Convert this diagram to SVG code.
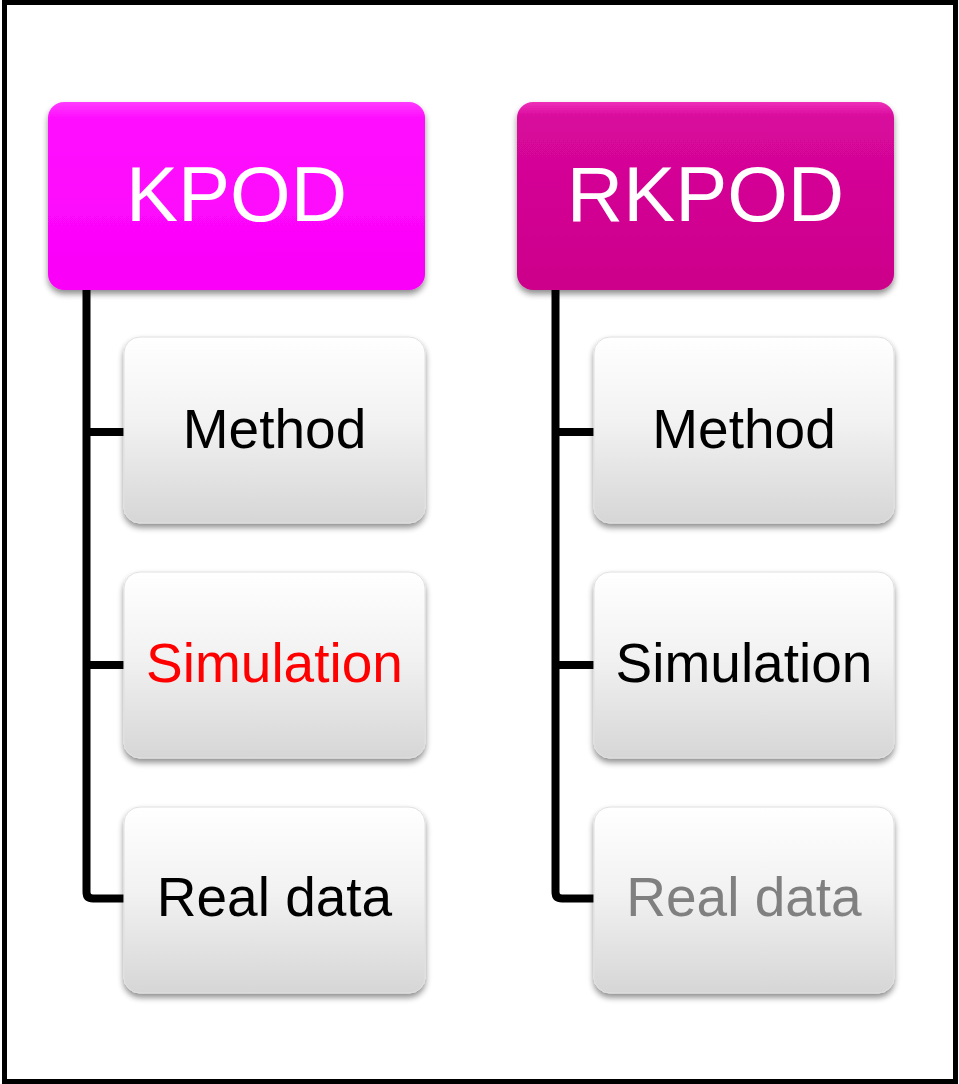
<svg xmlns="http://www.w3.org/2000/svg" width="959" height="1084" viewBox="0 0 959 1084">
<defs>
<linearGradient id="gk" x1="0" y1="0" x2="0" y2="1">
<stop offset="0" stop-color="#ff3cff"/><stop offset="0.08" stop-color="#ff10ff"/><stop offset="1" stop-color="#fa00f8"/>
</linearGradient>
<linearGradient id="gr" x1="0" y1="0" x2="0" y2="1">
<stop offset="0" stop-color="#ee30b8"/><stop offset="0.08" stop-color="#d8089c"/><stop offset="1" stop-color="#cc008a"/>
</linearGradient>
<linearGradient id="gc" x1="0" y1="0" x2="0" y2="1">
<stop offset="0" stop-color="#ffffff"/><stop offset="0.45" stop-color="#f2f2f2"/><stop offset="1" stop-color="#d6d6d6"/>
</linearGradient>
<filter id="sh" x="-10%" y="-10%" width="120%" height="125%">
<feGaussianBlur in="SourceAlpha" stdDeviation="3"/>
<feOffset dy="4"/>
<feComponentTransfer><feFuncA type="linear" slope="0.45"/></feComponentTransfer>
<feMerge><feMergeNode/><feMergeNode in="SourceGraphic"/></feMerge>
</filter>
</defs>
<style>
.hd{font-family:"Liberation Sans",Arial,sans-serif;font-size:78px;fill:#ffffff;text-anchor:middle}
.ch{font-family:"Liberation Sans",Arial,sans-serif;font-size:55px;fill:#000000;text-anchor:middle}
.cb{fill:url(#gc);stroke:#e0e0e0;stroke-width:1;filter:url(#sh)}
.con{fill:none;stroke:#000000;stroke-width:8;stroke-linejoin:round}
</style>
<rect x="0" y="0" width="959" height="1084" fill="#ffffff"/>
<rect x="4.5" y="2.5" width="951" height="1079" fill="none" stroke="#000000" stroke-width="5"/>
<g id="connectors">
<path class="con" d="M86.5,288 V892 Q86.5,898.5 93,898.5 H124 M86.5,432 H124 M86.5,665 H124"/>
<path class="con" d="M555.5,288 V892 Q555.5,898.5 562,898.5 H594 M555.5,432 H594 M555.5,665 H594"/>
</g>
<g id="kpod">
<rect x="48" y="102" width="377" height="188" rx="16" fill="url(#gk)" filter="url(#sh)"/>
<text class="hd" x="236.5" y="221">KPOD</text>
</g>
<g id="rkpod">
<rect x="517" y="102" width="377" height="188" rx="16" fill="url(#gr)" filter="url(#sh)"/>
<text class="hd" x="705.5" y="221">RKPOD</text>
</g>
<g id="kpod-method">
<rect class="cb" x="124" y="337" width="301" height="186" rx="16"/>
<text class="ch" x="274.5" y="448">Method</text>
</g>
<g id="kpod-simulation">
<rect class="cb" x="124" y="572" width="301" height="186" rx="16"/>
<text class="ch" x="274.5" y="682" style="fill:#ff0000">Simulation</text>
</g>
<g id="kpod-realdata">
<rect class="cb" x="124" y="807" width="301" height="186" rx="16"/>
<text class="ch" x="274.5" y="916">Real data</text>
</g>
<g id="rkpod-method">
<rect class="cb" x="594" y="337" width="300" height="186" rx="16"/>
<text class="ch" x="744" y="448">Method</text>
</g>
<g id="rkpod-simulation">
<rect class="cb" x="594" y="572" width="300" height="186" rx="16"/>
<text class="ch" x="744" y="682">Simulation</text>
</g>
<g id="rkpod-realdata">
<rect class="cb" x="594" y="807" width="300" height="186" rx="16"/>
<text class="ch" x="744" y="916" style="fill:#808080">Real data</text>
</g>
</svg>
